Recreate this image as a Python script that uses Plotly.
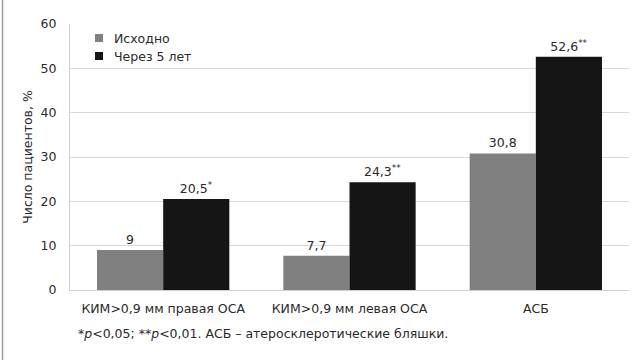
import plotly.graph_objects as go

categories = ["КИМ>0,9 мм правая ОСА", "КИМ>0,9 мм левая ОСА", "АСБ"]
baseline = [9, 7.7, 30.8]
after5 = [20.5, 24.3, 52.6]
after5_marks = ["*", "**", "**"]
series_names = ["Исходно", "Через 5 лет"]
series_colors = ["#808080", "#151515"]
y_ticks = [0, 10, 20, 30, 40, 50, 60]


def fmt(v):
    return ("%g" % v).replace(".", ",")


FONT = "DejaVu Sans, Verdana, sans-serif"
TXT = "#2a2a2a"

# plot area in pixels
L, T, W, H = 70, 24, 559, 266


def px(x):
    return (x - L) / W


def py(y):
    return (T + H - y) / H


fig = go.Figure()
fig.add_trace(go.Bar(
    name=series_names[0], x=categories, y=baseline,
    marker=dict(color=series_colors[0], line=dict(width=0)),
    text=[fmt(v) for v in baseline], textposition="outside",
    textfont=dict(size=12.5, color=TXT, family=FONT), cliponaxis=False,
))
fig.add_trace(go.Bar(
    name=series_names[1], x=categories, y=after5,
    marker=dict(color=series_colors[1], line=dict(width=0)),
    text=[fmt(v) + "<sup>" + m + "</sup>" for v, m in zip(after5, after5_marks)],
    textposition="outside",
    textfont=dict(size=12.5, color=TXT, family=FONT), cliponaxis=False,
))

shapes = [dict(
    type="line", xref="paper", yref="paper",
    x0=px(2.5), x1=px(2.5), y0=py(360), y1=py(0),
    line=dict(color="#9a9a9a", width=1.5),
)]
annotations = [dict(
    xref="paper", yref="paper", x=px(76), y=py(334),
    xanchor="left", yanchor="middle", showarrow=False,
    text="*<i>p</i><0,05; **<i>p</i><0,01. АСБ – атеросклеротические бляшки.",
    font=dict(size=12.5, color=TXT, family=FONT),
)]

# legend: small squares with labels in the upper-left corner
for i, (name, col) in enumerate(zip(series_names, series_colors)):
    cy = 38 + i * 18
    shapes.append(dict(
        type="rect", xref="paper", yref="paper",
        x0=px(95), x1=px(103), y0=py(cy + 4), y1=py(cy - 4),
        fillcolor=col, line=dict(width=0),
    ))
    annotations.append(dict(
        xref="paper", yref="paper", x=px(112), y=py(cy),
        xanchor="left", yanchor="middle", showarrow=False, text=name,
        font=dict(size=12.5, color=TXT, family=FONT),
    ))

fig.update_layout(
    width=632, height=360,
    margin=dict(l=L, r=632 - L - W, t=T, b=360 - T - H),
    paper_bgcolor="white", plot_bgcolor="white",
    barmode="group", bargap=0.29, bargroupgap=0,
    font=dict(family=FONT, size=12.5, color=TXT),
    showlegend=False,
    xaxis=dict(
        showgrid=False, showline=True, linecolor="#d0d0d0", linewidth=1,
        ticks="", ticklabelstandoff=7, tickfont=dict(size=12.5, color=TXT),
    ),
    yaxis=dict(
        range=[0, 60], tickvals=y_ticks, showgrid=True, gridcolor="#d9d9d9",
        gridwidth=1, zeroline=False, showline=True, linecolor="#d0d0d0",
        linewidth=1, ticks="", ticklabelstandoff=10,
        tickfont=dict(size=12.5, color=TXT),
        title=dict(text="Число пациентов, %", font=dict(size=12.5, color=TXT),
                   standoff=5),
    ),
    shapes=shapes,
    annotations=annotations,
)

fig.write_html("out.html")
